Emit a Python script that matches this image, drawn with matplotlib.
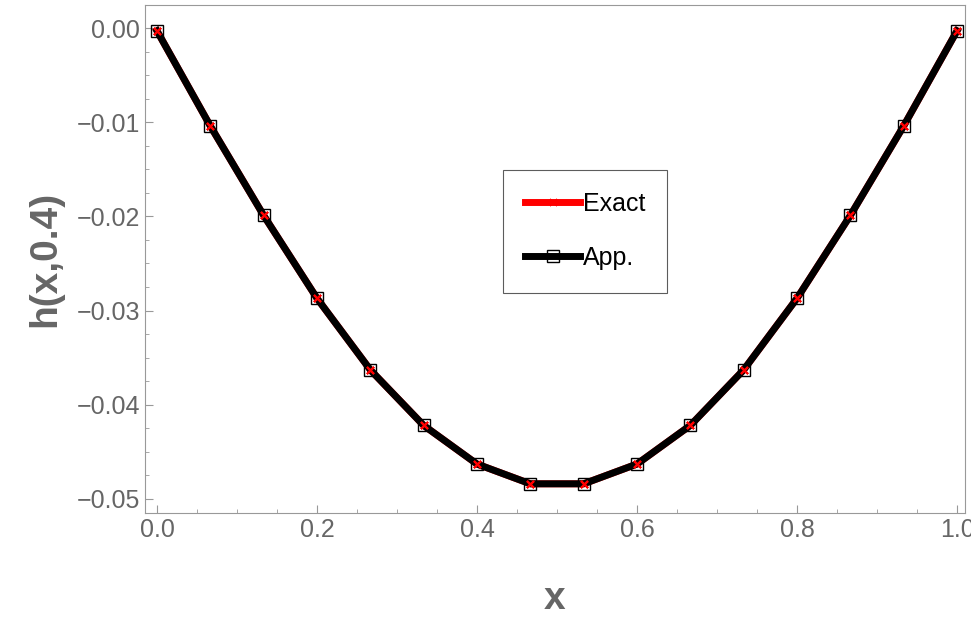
import matplotlib
matplotlib.use("Agg")
import matplotlib.pyplot as plt
import numpy as np

plt.rcParams['font.family'] = ['Liberation Sans', 'DejaVu Sans']

x = [i/15 for i in range(16)]
half = [-0.0003, -0.0104, -0.0199, -0.0287, -0.0363, -0.0422, -0.0463, -0.0484]
exact = half + half[::-1]
app = list(exact)

fig = plt.figure(figsize=(9.71, 6.18), dpi=100)
ax = fig.add_axes([145/971, 1-513/618, 820/971, 508/618])
ax.plot(x, exact, color="red", lw=5, marker=(4, 2, 45), ms=7, mec="red", label="Exact", zorder=2)
ax.plot(x, app, color="black", lw=5, marker="s", ms=9, mfc="none", mec="black", mew=1, label="App.", zorder=3)
ax.plot(x, exact, ls="none", marker=(4, 2, 45), ms=7, mec="red", mew=1.5, zorder=4)
ax.set_xlim(-0.015, 1.01)
ax.set_ylim(-0.0515, 0.00245)
ax.set_xticks(np.arange(0, 1.01, 0.2))
ax.set_xticklabels(["0.0", "0.2", "0.4", "0.6", "0.8", "1.0"])
ax.set_yticks([0, -0.01, -0.02, -0.03, -0.04, -0.05])
ax.set_yticklabels(["0.00", "\u22120.01", "\u22120.02", "\u22120.03", "\u22120.04", "\u22120.05"])
gray = "#666666"
for s in ax.spines.values():
    s.set_color("#999999")
ax.tick_params(colors="#999999", labelcolor=gray, labelsize=18, direction="in", length=6)
ax.xaxis.set_minor_locator(matplotlib.ticker.MultipleLocator(0.05))
ax.yaxis.set_minor_locator(matplotlib.ticker.MultipleLocator(0.0025))
ax.tick_params(which="minor", direction="in", length=3, colors="#999999")
ax.set_xlabel("x", fontsize=28, fontweight="bold", color=gray, labelpad=28)
ax.set_ylabel("h(x,0.4)", fontsize=28, fontweight="bold", color=gray, labelpad=10)
leg = ax.legend(loc="upper left", bbox_to_anchor=((490-145)/820, 1-(157-5)/508), fontsize=18,
                frameon=True, fancybox=False, edgecolor="#333333", handlelength=2.2,
                borderpad=0.9, labelspacing=1.2, handletextpad=0.1)
leg.get_frame().set_linewidth(0.8)
fig.savefig("out.png", dpi=100)
